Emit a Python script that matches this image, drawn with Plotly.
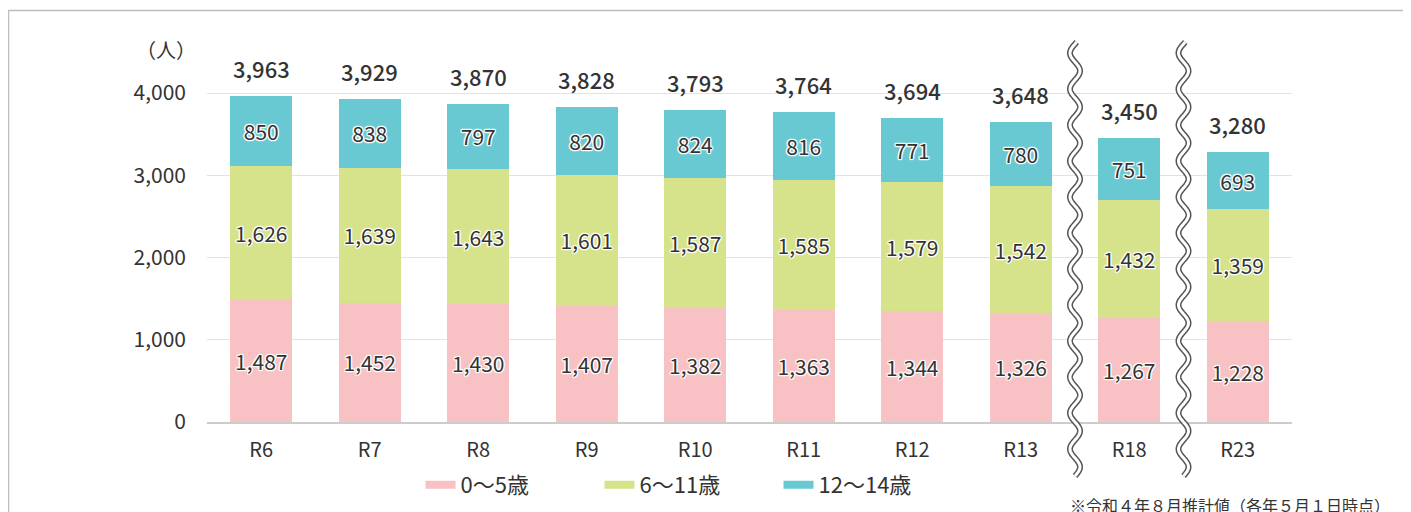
import numpy as np
import plotly.graph_objects as go

categories = ["R6", "R7", "R8", "R9", "R10", "R11", "R12", "R13", "R18", "R23"]
age_0_5 = [1487, 1452, 1430, 1407, 1382, 1363, 1344, 1326, 1267, 1228]
age_6_11 = [1626, 1639, 1643, 1601, 1587, 1585, 1579, 1542, 1432, 1359]
age_12_14 = [850, 838, 797, 820, 824, 816, 771, 780, 751, 693]
totals = [3963, 3929, 3870, 3828, 3793, 3764, 3694, 3648, 3450, 3280]
series_names = ["0～5歳", "6～11歳", "12～14歳"]
colors = ["#f8c1c3", "#d6e38a", "#69c9d3"]
y_ticks = [0, 1000, 2000, 3000, 4000]
break_after = [7, 8]  # wavy break lines after these category indices

FONT = "Noto Sans CJK JP, Noto Sans, sans-serif"
TXT = "#333333"
x = list(range(len(categories)))

# page body has an 8px margin: figure is placed at (8, 8)
OFF = 8
PL, PR, PT, PB = 207, 1292, 52, 422   # plot area in screen pixels
W, H = 1411 - OFF, 512 - OFF
plot_w, plot_h = PR - PL, PB - PT


def px_x(px):
    return (px - PL) / plot_w


def px_y(py):
    return (PB - py) / plot_h


outline = ("1px 0px 1px #fff, -1px 0px 1px #fff, 0px 1px 1px #fff, 0px -1px 1px #fff, "
           "1px 1px 1px #fff, -1px -1px 1px #fff, 1px -1px 1px #fff, -1px 1px 1px #fff")

fig = go.Figure()
for name, vals, col in zip(series_names, [age_0_5, age_6_11, age_12_14], colors):
    fig.add_trace(go.Bar(
        x=x, y=vals, name=name, marker=dict(color=col, line=dict(width=0)),
        text=[f"{v:,}" for v in vals], textposition="inside", insidetextanchor="middle",
        textangle=0, constraintext="none",
        textfont=dict(family=FONT, size=21, color=TXT, shadow=outline),
        showlegend=False, hoverinfo="skip",
    ))
for name, col in zip(series_names, colors):
    fig.add_trace(go.Scatter(
        x=[None], y=[None], mode="lines", name=name,
        line=dict(color=col, width=8), showlegend=True,
    ))

for xi, t in zip(x, totals):
    fig.add_annotation(x=xi, y=t, text=f"{t:,}", showarrow=False, yshift=28,
                       yanchor="middle", font=dict(family=FONT, size=22, color=TXT, weight=500))

# wavy break marks
y0, y1 = px_y(476), px_y(42)
ys = np.linspace(y0, y1, 400)
period = 36 / plot_h
amp = 5 / (plot_w / len(categories))
for b in break_after:
    xc = b + 0.5
    xs = xc + amp * np.sin(2 * np.pi * (ys - y0) / period)
    path = "M " + " L ".join(f"{a:.4f},{c:.4f}" for a, c in zip(xs, ys))
    fig.add_shape(type="path", path=path, xref="x", yref="paper",
                  line=dict(color="#555555", width=6), layer="above")
    fig.add_shape(type="path", path=path, xref="x", yref="paper",
                  line=dict(color="#ffffff", width=3), layer="above")

# outer frame
fig.add_shape(type="rect", xref="paper", yref="paper",
              x0=px_x(8.5), x1=px_x(1404), y0=-0.4, y1=px_y(10.5),
              line=dict(color="#bdbdbd", width=1.5), layer="below")

fig.add_annotation(xref="paper", yref="paper", x=px_x(198), y=px_y(49),
                   text="（人）", showarrow=False, xanchor="right", yanchor="middle",
                   font=dict(family=FONT, size=20, color=TXT))
fig.add_annotation(xref="paper", yref="paper", x=px_x(1392), y=px_y(505),
                   text="※令和４年８月推計値（各年５月１日時点）", showarrow=False,
                   xanchor="right", yanchor="middle",
                   font=dict(family=FONT, size=16, color=TXT))

fig.update_layout(
    barmode="stack", bargap=0.43,
    width=W, height=H,
    margin=dict(l=PL - OFF, r=W - (PR - OFF), t=PT - OFF, b=H - (PB - OFF), pad=0,
                autoexpand=False),
    paper_bgcolor="white", plot_bgcolor="white",
    font=dict(family=FONT, color=TXT),
    legend=dict(orientation="h", xref="paper", x=px_x(689), xanchor="center",
                yref="container", y=(H - (485 - OFF)) / H, yanchor="middle",
                font=dict(family=FONT, size=22, color=TXT), traceorder="normal",
                entrywidth=134, entrywidthmode="pixels", itemwidth=30,
                bgcolor="rgba(0,0,0,0)"),
    xaxis=dict(tickmode="array", tickvals=x, ticktext=categories, range=[-0.5, len(categories) - 0.5],
               showgrid=False, showline=True, linecolor="#cccccc", linewidth=2,
               ticks="", ticklabelstandoff=9, automargin=False,
               tickfont=dict(family=FONT, size=20, color=TXT), zeroline=False),
    yaxis=dict(range=[0, 4000 * plot_h / 329], tickmode="array", tickvals=y_ticks,
               ticktext=[f"{v:,}" for v in y_ticks], showgrid=True, gridcolor="#e3e3e3",
               gridwidth=1, zeroline=False, ticks="", ticklabelstandoff=20, automargin=False,
               tickfont=dict(family=FONT, size=21, color=TXT)),
    showlegend=True,
)

fig.write_html("out.html")
